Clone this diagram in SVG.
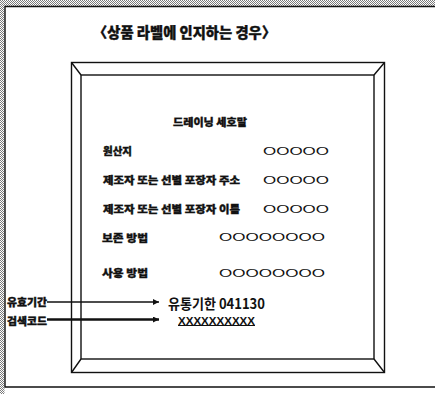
<svg xmlns="http://www.w3.org/2000/svg" width="435" height="394" viewBox="0 0 435 394">
  <defs>
    <pattern id="stipple" width="2" height="2" patternUnits="userSpaceOnUse">
      <rect width="2" height="2" fill="#ffffff"/>
      <rect width="1" height="1" fill="#7a7a7a"/>
      <rect x="1" y="1" width="1" height="1" fill="#7a7a7a"/>
    </pattern>
    <marker id="arrow" viewBox="0 0 10 10" refX="10" refY="5" markerWidth="7" markerHeight="6" markerUnits="userSpaceOnUse" orient="auto">
      <path d="M0,0 L10,5 L0,10 Z" fill="#111"/>
    </marker>
  </defs>
  <style>
    .ko { font-family: "Noto Sans CJK KR", "Noto Sans", sans-serif; fill: #111; }
    .b { font-weight: 900; stroke: #111; stroke-width: 0.35; }
    .oo { font-family: "Liberation Sans", Arial, sans-serif; font-size: 10px; fill: #111; }
    .frame { fill: none; stroke: #111; stroke-width: 1.4; }
    .conn { stroke: #111; fill: none; }
  </style>

  <rect width="435" height="394" fill="#ffffff"/>
  <!-- page background stipple -->
  <rect x="0" y="0" width="435" height="6" fill="url(#stipple)"/>
  <rect x="0" y="0" width="4.5" height="394" fill="url(#stipple)"/>
  <!-- page border -->
  <path d="M435,6.5 H5 V387 H435" fill="none" stroke="#111" stroke-width="1.4"/>

  <g id="title">
    <text class="ko b" x="93" y="37.5" font-size="14.5" textLength="183" lengthAdjust="spacingAndGlyphs">〈상품 라벨에 인지하는 경우〉</text>
  </g>

  <g id="label-frame">
    <rect class="frame" x="71.5" y="62.5" width="313" height="310"/>
    <rect class="frame" x="81" y="75" width="293" height="284" stroke-width="1.2"/>
    <path class="frame" stroke-width="1" d="M71.5,62.5 L81,75 M384.5,62.5 L374,75 M71.5,372.5 L81,359 M384.5,372.5 L374,359"/>
  </g>

  <g id="label-title">
    <text class="ko b" x="173" y="125.5" font-size="10.5" textLength="74" lengthAdjust="spacingAndGlyphs">드레이닝 세호말</text>
  </g>

  <g id="row-origin">
    <text class="ko b" x="103" y="154.7" font-size="10.5" textLength="29" lengthAdjust="spacingAndGlyphs">원산지</text>
    <text class="oo" x="263" y="154.5" textLength="66" lengthAdjust="spacingAndGlyphs">OOOOO</text>
  </g>
  <g id="row-address">
    <text class="ko b" x="103" y="184" font-size="10.5" textLength="137" lengthAdjust="spacingAndGlyphs">제조자 또는 선별 포장자 주소</text>
    <text class="oo" x="263" y="183.8" textLength="66" lengthAdjust="spacingAndGlyphs">OOOOO</text>
  </g>
  <g id="row-name">
    <text class="ko b" x="103" y="213" font-size="10.5" textLength="137" lengthAdjust="spacingAndGlyphs">제조자 또는 선별 포장자 이름</text>
    <text class="oo" x="263" y="212.8" textLength="66" lengthAdjust="spacingAndGlyphs">OOOOO</text>
  </g>
  <g id="row-storage">
    <text class="ko b" x="102" y="241.5" font-size="10.5" textLength="46" lengthAdjust="spacingAndGlyphs">보존 방법</text>
    <text class="oo" x="219" y="241.3" textLength="106" lengthAdjust="spacingAndGlyphs">OOOOOOOO</text>
  </g>
  <g id="row-usage">
    <text class="ko b" x="102" y="277" font-size="10.5" textLength="46" lengthAdjust="spacingAndGlyphs">사용 방법</text>
    <text class="oo" x="219" y="276.8" textLength="106" lengthAdjust="spacingAndGlyphs">OOOOOOOO</text>
  </g>

  <g id="expiry-text">
    <text class="ko" x="168" y="308.5" font-size="14" font-weight="bold" textLength="97" lengthAdjust="spacingAndGlyphs">유통기한 041130</text>
  </g>
  <g id="barcode-text">
    <text class="oo" x="178" y="324.5" font-size="11" font-weight="bold" textLength="77" lengthAdjust="spacingAndGlyphs">XXXXXXXXXX</text>
    <line x1="178" y1="325.5" x2="255" y2="325.5" stroke="#111" stroke-width="1"/>
  </g>

  <g id="expiry-label">
    <text class="ko b" x="7" y="305.5" font-size="10" textLength="40" lengthAdjust="spacingAndGlyphs">유효기간</text>
  </g>
  <g id="barcode-label">
    <text class="ko b" x="7" y="324.5" font-size="10" textLength="40" lengthAdjust="spacingAndGlyphs">검색코드</text>
  </g>

  <g id="connectors">
    <line class="conn" x1="47" y1="302" x2="159" y2="302" stroke-width="1.5" marker-end="url(#arrow)"/>
    <line class="conn" x1="47" y1="319.5" x2="159" y2="319.5" stroke-width="2.6" marker-end="url(#arrow)"/>
  </g>
</svg>
